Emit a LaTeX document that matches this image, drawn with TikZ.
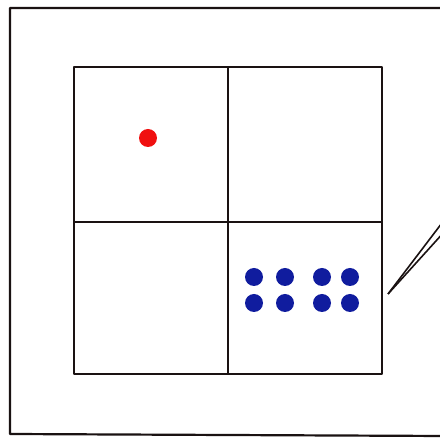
\documentclass[tikz,border=0pt]{standalone}
\usetikzlibrary{positioning, calc}
\definecolor{cred}{HTML}{F01010}
\definecolor{cblue}{HTML}{101C9E}
\definecolor{cline}{HTML}{1A1212}
\tikzset{
  every picture/.style={line width=2.2pt, line join=round},
  frame/.style={draw=cline},
  dot/.style={circle, fill=#1, inner sep=0pt, minimum size=18pt},
  dot/.default=cblue,
}
\begin{document}
\begin{tikzpicture}[x=1pt, y=-1pt]
  \useasboundingbox (0,0) rectangle (440,438);
  % outer sheet
  \draw[frame] (445,8) -- (10,8) -- (10,434) -- (445,436);
  % square split in four
  \draw[frame] (74,67) rectangle (382,374);
  \draw[frame] (228,67) -- (228,374);
  \draw[frame] (74,222) -- (382,222);
  % one dot, eight dots
  \node[dot=cred] (r1) at (148,138) {};
  \foreach \i/\x in {1/254,2/285,3/322,4/350} {
    \node[dot] (u\i) at (\x,277) {};
    \node[dot] (d\i) at (\x,303) {};
  }
  % pointer
  \coordinate (tip) at (388,294);
  \coordinate (p1) at (445,219);
  \coordinate (p2) at (445,231);
  \draw[frame, line width=1.6pt] (tip) -- (p1);
  \draw[frame, line width=1.6pt] (tip) -- (p2);
\end{tikzpicture}
\end{document}
